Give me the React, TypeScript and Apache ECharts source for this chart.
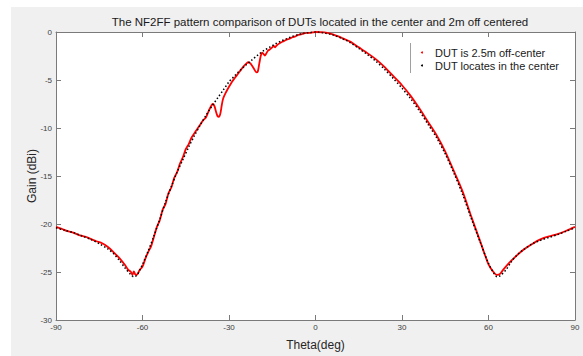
import React, { useEffect, useRef } from "react";
import * as echarts from "echarts";

const TITLE = "The NF2FF pattern comparison of DUTs located in the center and 2m off centered";
const X_NAME = "Theta(deg)";
const Y_NAME = "Gain (dBi)";
const SERIES_NAMES = ["DUT is 2.5m off-center", "DUT locates in the center"];

// Red: DUT 2.5 m off-center  [theta, gain]
const offTheta = [
  -90, -88, -86, -84, -82, -80, -78, -76, -74, -72, -70, -68, -66, -65, -64, -63.5, -63, -62.5, -62, -61,
  -60, -59, -58, -57, -56, -55, -54, -53, -52, -51, -50, -49, -48, -47, -46, -45, -44, -43, -42, -41,
  -40, -39, -38, -37, -36, -35.5, -35, -34.5, -34, -33.5, -33, -32.5, -32, -31, -30, -29, -28, -27, -26, -25,
  -24, -23.3, -22.5, -21.5, -20.5, -20, -19.5, -19, -18.5, -18, -17.5, -17, -16.5, -16, -15, -14.5, -14, -13.5, -12, -11,
  -10, -9, -8, -7, -6, -5, -4, -3, -2, -1, 0,
  3, 6, 9, 12, 15, 18, 21, 24, 27, 30, 33, 36, 39, 42, 45, 48, 51, 54, 57, 60,
  62, 63, 64, 65, 67, 69, 72, 75, 78, 81, 84, 87, 90,
];
const offGain = [
  -20.3, -20.5, -20.75, -20.9, -21.15, -21.3, -21.55, -21.8, -22.0, -22.4, -22.95, -23.55, -24.3, -24.75, -25.0, -25.3, -24.95, -25.25, -25.3, -24.8,
  -24.45, -23.6, -22.9, -22.3, -21.3, -20.3, -19.6, -18.5, -17.9, -16.8, -16.2, -15.2, -14.6, -13.7, -13.05, -12.2, -11.7, -11.0, -10.55, -10.1,
  -9.65, -9.2, -8.9, -8.2, -7.6, -7.5, -7.75, -8.3, -8.75, -8.85, -8.5, -7.6, -6.9, -6.25, -5.7, -5.2, -4.8, -4.4, -4.0, -3.6,
  -3.3, -3.15, -3.3, -3.75, -4.2, -4.1, -3.3, -2.5, -2.15, -2.3, -2.45, -2.2, -1.95, -1.85, -1.6, -1.45, -1.6, -1.4, -1.1, -0.95,
  -0.8, -0.7, -0.55, -0.45, -0.3, -0.25, -0.15, -0.1, -0.1, -0.05, 0,
  -0.05, -0.25, -0.6, -1.0, -1.6, -2.2, -2.85, -3.65, -4.6, -5.55, -6.65, -7.95, -9.35, -10.75, -12.45, -14.5, -16.6, -19.2, -21.7, -24.2,
  -25.1, -25.3, -25.2, -24.8, -24.1, -23.5, -22.7, -22.1, -21.6, -21.3, -21.05, -20.7, -20.3,
];

// Black: DUT located in the center  [theta, gain]
const cenTheta = [
  -90, -87, -84, -81, -78, -75, -72, -70, -68, -66, -64, -63, -62, -61, -60, -58, -56, -54, -52, -50,
  -48, -46, -44, -42, -40, -38, -36, -34, -32, -30, -28, -26, -24, -22, -20, -18, -16, -14, -12, -10,
  -8, -6, -4, -2, 0, 3, 6, 9, 12, 15, 18, 21, 24, 27, 30, 33, 36, 39, 42, 45,
  48, 51, 54, 57, 60, 62, 63, 64, 66, 68, 70, 72, 75, 78, 81, 84, 87, 90,
];
const cenGain = [
  -20.4, -20.65, -20.9, -21.25, -21.6, -22.05, -22.6, -23.1, -23.8, -24.6, -25.3, -25.5, -25.35, -24.85, -24.2, -22.8, -21.2, -19.5, -17.7, -16.1,
  -14.6, -13.3, -12.0, -10.8, -9.7, -8.7, -7.75, -6.9, -6.05, -5.2, -4.55, -3.95, -3.4, -2.9, -2.4, -1.95, -1.6, -1.25, -0.95, -0.7,
  -0.45, -0.28, -0.14, -0.05, 0, -0.1, -0.3, -0.65, -1.1, -1.7, -2.35, -3.05, -3.9, -4.85, -5.85, -6.95, -8.2, -9.6, -11.0, -12.7,
  -14.7, -16.9, -19.4, -21.8, -24.1, -25.2, -25.5, -25.4, -24.8, -23.9, -23.2, -22.7, -22.1, -21.7, -21.4, -21.1, -20.75, -20.4,
];

const X_TICKS = [-90, -60, -30, 0, 30, 60, 90];
const Y_TICKS = [-30, -25, -20, -15, -10, -5, 0];

const FONT = "'Liberation Sans', Arial, Helvetica, sans-serif";

export default function App() {
  const ref = useRef<HTMLDivElement>(null);

  useEffect(() => {
    if (!ref.current) return;
    const chart = echarts.init(ref.current, null, { renderer: "svg" });

    const offData = offTheta.map((t, i) => [t, offGain[i]]);
    const cenData = cenTheta.map((t, i) => [t, cenGain[i]]);

    const axisColor = "#7a7a7a";
    const xMin = X_TICKS[0];
    const xMax = X_TICKS[X_TICKS.length - 1];
    const yMin = Y_TICKS[0];
    const yMax = Y_TICKS[Y_TICKS.length - 1];

    const baseX = {
      type: "value" as const,
      min: xMin,
      max: xMax,
      interval: 30,
      axisLine: { show: true, onZero: false, lineStyle: { color: axisColor, width: 1 } },
      axisTick: { show: true, inside: true, length: 5, lineStyle: { color: axisColor } },
      splitLine: { show: false },
    };
    const baseY = {
      type: "value" as const,
      min: yMin,
      max: yMax,
      interval: 5,
      axisLine: { show: true, onZero: false, lineStyle: { color: axisColor, width: 1 } },
      axisTick: { show: true, inside: true, length: 5, lineStyle: { color: axisColor } },
      splitLine: { show: false },
    };

    chart.setOption({
      animation: false,
      backgroundColor: "#ffffff",
      graphic: [
        {
          type: "rect",
          silent: true,
          z: -10,
          shape: { x: 11, y: 7, width: 600, height: 400 },
          style: { fill: "#f0f0f0" },
        },
        {
          type: "line",
          silent: true,
          z: 10,
          shape: { x1: 410.5, y1: 43, x2: 410.5, y2: 73 },
          style: { stroke: "#a0a0a0", lineWidth: 1 },
        },
        {
          type: "circle",
          z: 10,
          shape: { cx: 422, cy: 52.5, r: 1 },
          style: { fill: "#ff0000" },
        },
        {
          type: "circle",
          z: 10,
          shape: { cx: 422, cy: 65.5, r: 1 },
          style: { fill: "#000000" },
        },
        {
          type: "text",
          z: 10,
          x: 435,
          y: 52.5,
          style: {
            text: SERIES_NAMES[0],
            fill: "#1a1a1a",
            font: `11px ${FONT}`,
            textVerticalAlign: "middle",
            verticalAlign: "middle",
          },
        },
        {
          type: "text",
          z: 10,
          x: 435,
          y: 65.5,
          style: {
            text: SERIES_NAMES[1],
            fill: "#1a1a1a",
            font: `11px ${FONT}`,
            textVerticalAlign: "middle",
            verticalAlign: "middle",
          },
        },
      ],
      title: {
        text: TITLE,
        left: 315,
        top: 11,
        textAlign: "center",
        textStyle: { fontFamily: FONT, fontSize: 11.5, fontWeight: "normal", color: "#1a1a1a" },
      },
      grid: { left: 56, right: 8, top: 32, bottom: 30, containLabel: false, show: true, backgroundColor: "#ffffff", borderWidth: 0 },
      xAxis: [
        {
          ...baseX,
          position: "bottom",
          name: X_NAME,
          nameLocation: "middle",
          nameGap: 19,
          nameMoveOverlap: false,
          nameTextStyle: { fontFamily: FONT, fontSize: 12, color: "#262626" },
          axisLabel: { show: true, margin: 3, fontFamily: FONT, fontSize: 8, color: "#404040" },
        },
        {
          ...baseX,
          position: "top",
          axisLabel: { show: false },
        },
      ],
      yAxis: [
        {
          ...baseY,
          position: "left",
          name: Y_NAME,
          nameLocation: "middle",
          nameGap: 18,
          nameRotate: 90,
          nameMoveOverlap: false,
          nameTextStyle: { fontFamily: FONT, fontSize: 12, color: "#262626" },
          axisLabel: { show: true, margin: 4, fontFamily: FONT, fontSize: 8, color: "#404040" },
        },
        {
          ...baseY,
          position: "right",
          axisLabel: { show: false },
        },
      ],
      series: [
        {
          name: SERIES_NAMES[0],
          type: "line",
          xAxisIndex: 0,
          yAxisIndex: 0,
          data: offData,
          showSymbol: false,
          smooth: 0.25,
          lineStyle: { color: "#ff0000", width: 1.8 },
          itemStyle: { color: "#ff0000" },
          z: 2,
        },
        {
          name: SERIES_NAMES[1],
          type: "line",
          xAxisIndex: 0,
          yAxisIndex: 0,
          data: cenData,
          showSymbol: false,
          smooth: 0.3,
          lineStyle: { color: "#000000", width: 1.5, type: [1.5, 2.2] },
          itemStyle: { color: "#000000" },
          z: 3,
        },
      ],
    });

    return () => {
      chart.dispose();
    };
  }, []);

  return (
    <div
      ref={ref}
      style={{ position: "fixed", left: 0, top: 0, width: 583, height: 356, background: "#ffffff" }}
    />
  );
}
